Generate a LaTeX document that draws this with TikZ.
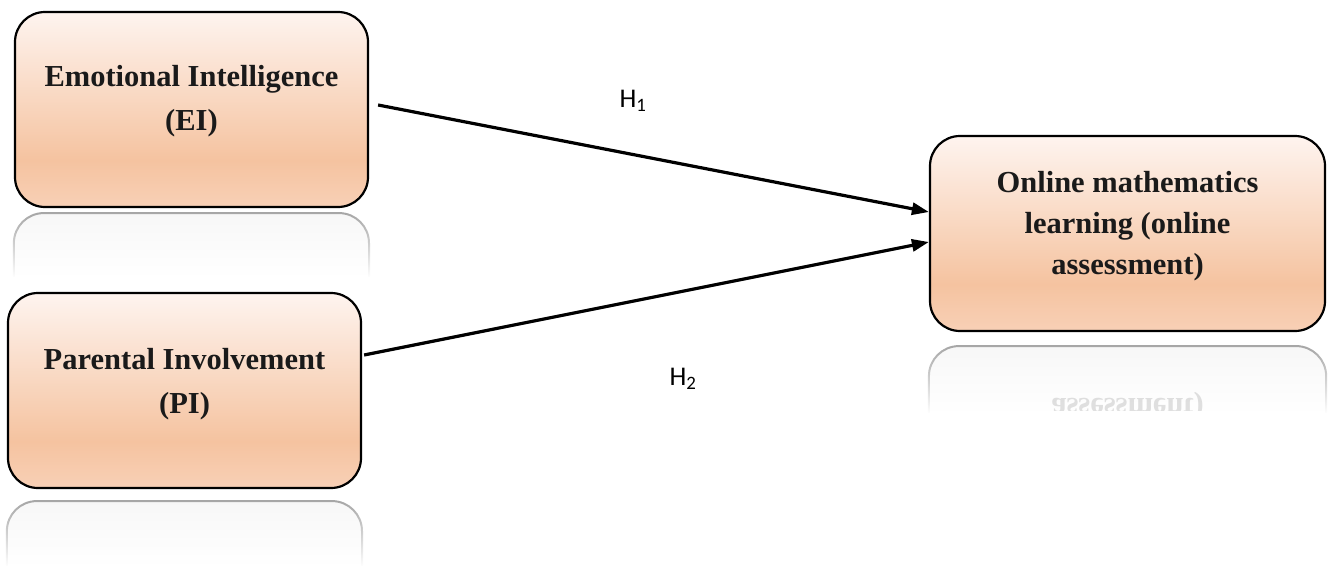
\documentclass[tikz,border=0pt]{standalone}
\usepackage{fontspec}
\setmainfont{Liberation Serif}
\newfontfamily\labfont{Carlito}
\newfontfamily\boxfont{Liberation Serif}
\usetikzlibrary{arrows.meta,calc,fadings}
\definecolor{peachtop}{HTML}{FEF4EF}
\definecolor{peachmid}{HTML}{F5C3A0}
\definecolor{peachbot}{HTML}{F8D0B6}
\definecolor{inkc}{HTML}{1A1A1A}
\pgfdeclareverticalshading{boxshade}{100bp}{color(0bp)=(peachbot); color(25bp)=(peachbot); color(37bp)=(peachmid); color(75bp)=(peachtop); color(100bp)=(peachtop)}
\begin{document}
\begin{tikzpicture}[x=1pt,y=-1pt,
  boxnode/.style={draw=black, line width=2.2pt, rounded corners=30pt, shading=boxshade,
    minimum width=353pt, minimum height=195pt, inner sep=0pt},
  boxtext/.style={align=center, inner sep=0pt, text=inkc, font=\boxfont\bfseries\fontsize{30.5}{44}\selectfont},
  reflect/.style={draw=gray!70, line width=2pt, rounded corners=30pt, fill=gray!6, path fading=south},
  conn/.style={line width=3.2pt, -{Triangle[length=17pt,width=12pt]}},
  hlab/.style={font=\labfont\fontsize{27}{30}\selectfont, inner sep=0pt}]
\useasboundingbox (0,0) rectangle (1332,565);

% boxes
\node[boxnode] (ei) at (191.5,109.5) {};
\node[boxnode] (pi) at (184.5,390.5) {};
\node[boxnode, minimum width=395pt] (om) at (1127.5,233.5) {};

% reflections
\path[reflect] ($(ei.south west)+(0,69)$) -- ($(ei.south west)+(0,5)$) -- ($(ei.south east)+(0,5)$) -- ($(ei.south east)+(0,69)$);
\path[reflect] ($(pi.south west)+(0,77)$) -- ($(pi.south west)+(0,12)$) -- ($(pi.south east)+(0,12)$) -- ($(pi.south east)+(0,77)$);
\path[reflect] ($(om.south west)+(0,81)$) -- ($(om.south west)+(0,14)$) -- ($(om.south east)+(0,14)$) -- ($(om.south east)+(0,81)$);
\begin{scope}
\clip ($(om.south west)+(0,60)$) rectangle ($(om.south east)+(0,78)$);
\node[boxtext, yscale=-1, transform shape, text=black, opacity=0.12] (omr) at ($(om.south)+(0,74)$) {assessment)};
\end{scope}

% texts
\node[boxtext] (eit) at ($(ei.center)+(0,-8)$) {Emotional Intelligence\\(EI)};
\node[boxtext] (pit) at ($(pi.center)+(0,-6)$) {Parental Involvement\\(PI)};
\node[boxtext, font=\boxfont\bfseries\fontsize{30.5}{41}\selectfont] (omt) at ($(om.center)+(0,-7)$) {Online mathematics\\learning (online\\assessment)};

% connectors
\coordinate (s1) at ($(ei.east)+(9,-4.5)$);
\coordinate (e1) at ($(om.west)+(0,-21.5)$);
\coordinate (s2) at ($(pi.east)+(2,-35.5)$);
\coordinate (e2) at ($(om.west)+(0,8.5)$);
\draw[conn] (s1) -- (e1);
\draw[conn] (s2) -- (e2);

% labels
\node[hlab] (h1) at (633,101) {H\textsubscript{1}};
\node[hlab] (h2) at (683,379) {H\textsubscript{2}};
\end{tikzpicture}
\end{document}
